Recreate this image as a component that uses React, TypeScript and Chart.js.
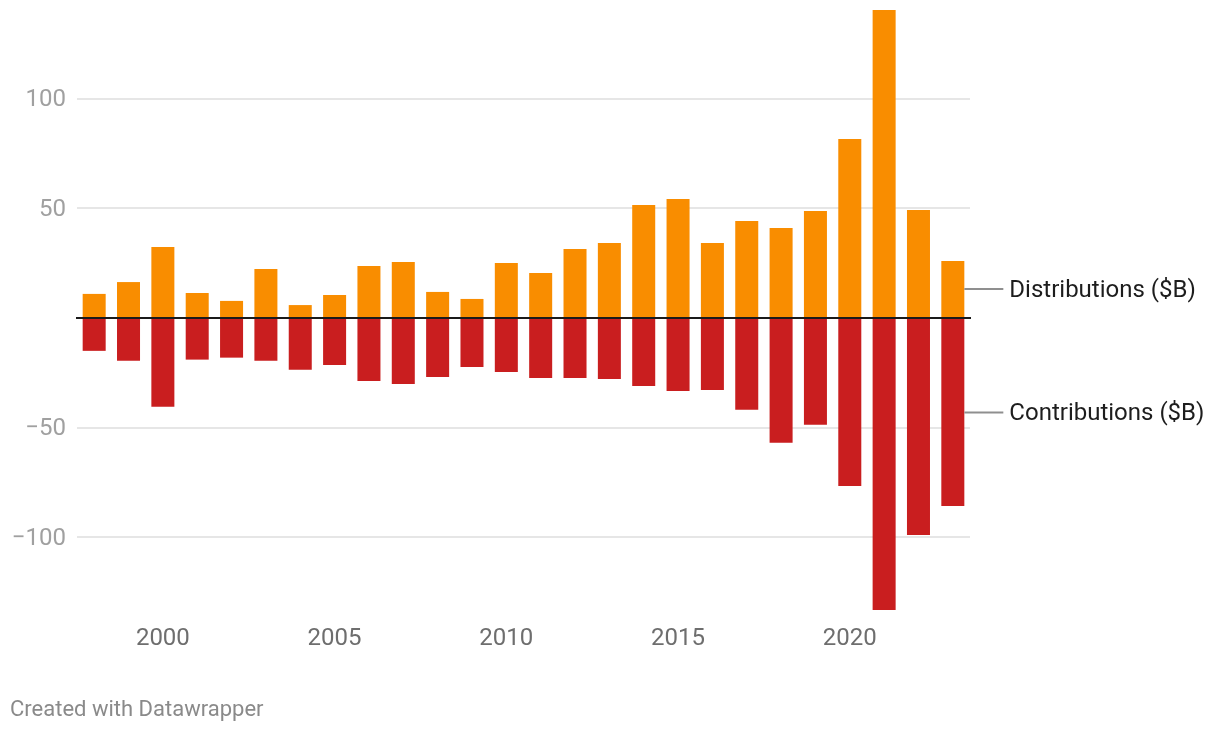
import React, { useEffect, useRef } from 'react';
import { Chart, registerables } from 'chart.js';

Chart.register(...registerables);

const years = [
  '1998', '1999', '2000', '2001', '2002', '2003', '2004', '2005', '2006', '2007',
  '2008', '2009', '2010', '2011', '2012', '2013', '2014', '2015', '2016', '2017',
  '2018', '2019', '2020', '2021', '2022', '2023',
];
const distributions = [
  11.0, 16.4, 32.4, 11.4, 7.8, 22.4, 5.9, 10.5, 23.7, 25.6,
  11.9, 8.7, 25.1, 20.5, 31.5, 34.2, 51.6, 54.3, 34.2, 44.3,
  41.1, 48.9, 81.7, 140.6, 49.3, 26.0,
];
const contributions = [
  -15.0, -19.5, -40.5, -19.0, -18.1, -19.5, -23.6, -21.5, -28.8, -30.1,
  -26.9, -22.4, -24.7, -27.4, -27.4, -27.9, -31.1, -33.3, -32.9, -41.9,
  -56.9, -48.7, -76.7, -133.3, -99.1, -85.8,
];
const yTickValues = [-100, -50, 0, 50, 100];
const xTickLabels = ['2000', '2005', '2010', '2015', '2020'];
const seriesNames = ['Distributions ($B)', 'Contributions ($B)'];
const footerText = 'Created with Datawrapper';

const FONT = 'Roboto';

const overlayPlugin = {
  id: 'overlay',
  afterDatasetsDraw(chart: any) {
    const { ctx, chartArea, scales } = chart;
    const y0 = scales.y.getPixelForValue(0);
    ctx.save();
    ctx.strokeStyle = '#1a1a1a';
    ctx.lineWidth = 2;
    ctx.beginPath();
    ctx.moveTo(chartArea.left - 1, y0);
    ctx.lineTo(chartArea.right + 1, y0);
    ctx.stroke();

    chart.data.datasets.forEach((ds: any, i: number) => {
      const meta = chart.getDatasetMeta(i);
      const el = meta.data[meta.data.length - 1];
      if (!el) return;
      const p = el.getProps(['x', 'y', 'base', 'width'], true);
      const midY = (p.y + p.base) / 2;
      const xr = p.x + p.width / 2;
      ctx.strokeStyle = '#8f8f8f';
      ctx.lineWidth = 2;
      ctx.beginPath();
      ctx.moveTo(xr, midY);
      ctx.lineTo(xr + 39, midY);
      ctx.stroke();
      ctx.fillStyle = '#1d1d1d';
      ctx.font = `24px ${FONT}`;
      ctx.textAlign = 'left';
      ctx.textBaseline = 'middle';
      ctx.fillText(ds.label, xr + 45, midY + 2);
    });
    ctx.restore();
  },
};

export default function App() {
  const canvasRef = useRef<HTMLCanvasElement | null>(null);

  useEffect(() => {
    if (!canvasRef.current) return;
    const yMin = Math.min(...contributions);
    const yMax = Math.max(...distributions);
    const chart = new Chart(canvasRef.current, {
      type: 'bar',
      data: {
        labels: years,
        datasets: [
          {
            label: seriesNames[0],
            data: distributions,
            backgroundColor: '#f98d00',
            barPercentage: 0.67,
            categoryPercentage: 1,
          },
          {
            label: seriesNames[1],
            data: contributions,
            backgroundColor: '#c91e1f',
            barPercentage: 0.67,
            categoryPercentage: 1,
          },
        ],
      },
      options: {
        animation: false,
        responsive: true,
        maintainAspectRatio: false,
        layout: { padding: { left: 0, right: 250, top: 10, bottom: 72 } },
        plugins: {
          legend: { display: false },
          tooltip: { enabled: false },
        },
        scales: {
          x: {
            stacked: true,
            offset: true,
            grid: { display: false },
            border: { display: false },
            ticks: {
              autoSkip: false,
              maxRotation: 0,
              color: '#6e6e6e',
              font: { family: FONT, size: 24 },
              padding: 7,
              callback: (_v: any, i: number) =>
                xTickLabels.includes(years[i]) ? years[i] : '',
            },
            afterFit: (s: any) => {
              s.height = 50;
              s.paddingLeft = 0;
              s.paddingRight = 0;
            },
          },
          y: {
            stacked: true,
            min: yMin,
            max: yMax,
            afterBuildTicks: (s: any) => {
              s.ticks = yTickValues.map((v) => ({ value: v }));
            },
            grid: {
              color: (c: any) => (c.tick && c.tick.value === 0 ? 'rgba(0,0,0,0)' : '#e6e6e6'),
              lineWidth: 2,
              drawTicks: false,
            },
            border: { display: false },
            ticks: {
              padding: 11,
              labelOffset: 1.5,
              color: '#a0a0a0',
              font: { family: FONT, size: 24 },
              callback: (v: any) =>
                v === 0 ? '' : v < 0 ? '\u2212' + Math.abs(v) : String(v),
            },
            afterFit: (s: any) => {
              s.width = 77;
              s.paddingTop = 0;
              s.paddingBottom = 0;
            },
          },
        },
      },
      plugins: [overlayPlugin],
    });
    return () => chart.destroy();
  }, []);

  return (
    <div
      style={{
        position: 'fixed',
        left: 0,
        top: 0,
        width: 1220,
        height: 732,
        background: '#fff',
      }}
    >
      <canvas ref={canvasRef} />
      <div
        style={{
          position: 'absolute',
          left: 10,
          top: 696,
          fontFamily: FONT,
          fontSize: 22,
          lineHeight: '26px',
          color: '#8a8a8a',
          whiteSpace: 'nowrap',
        }}
      >
        {footerText}
      </div>
    </div>
  );
}
